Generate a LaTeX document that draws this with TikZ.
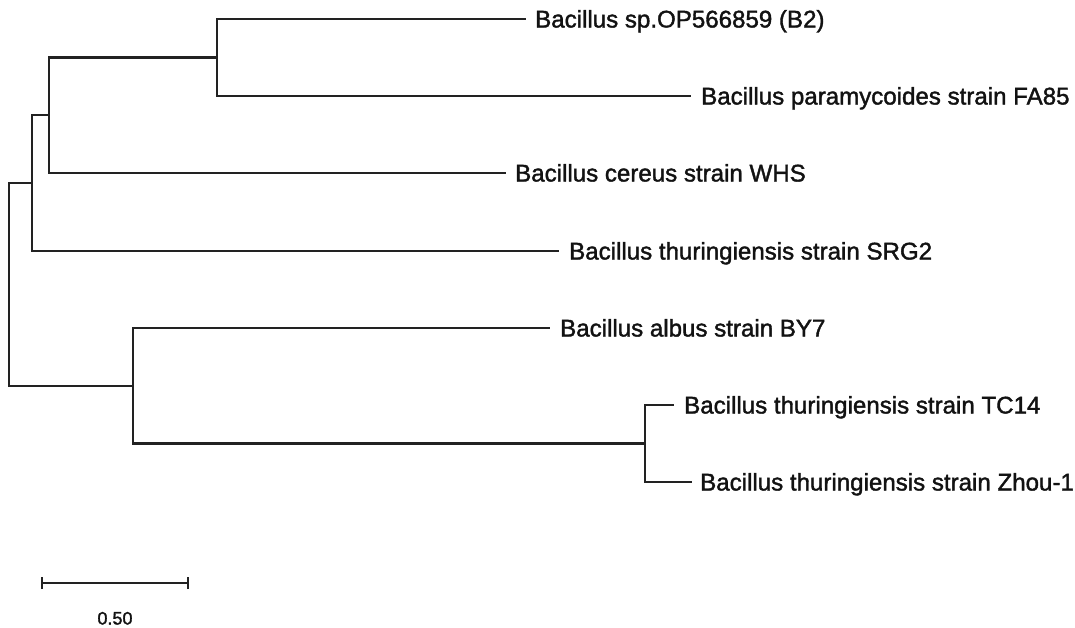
\documentclass[tikz,border=0pt]{standalone}
\usepackage{fontspec}
\setmainfont{Liberation Sans}
\newfontfamily\taxfont{Liberation Sans}[FakeBold=1.6]
\definecolor{branch}{RGB}{34,34,34}
\definecolor{labelink}{RGB}{18,18,18}
\tikzset{
  edge/.style={draw=branch, line width=2.6pt, line cap=rect, line join=miter},
  taxon/.style={anchor=base west, inner sep=0pt, text=labelink,
                font=\taxfont\fontsize{24.1}{28}\selectfont},
  scalelabel/.style={anchor=base, inner sep=0pt, text=labelink,
                font=\taxfont\fontsize{18}{21}\selectfont}
}
\begin{document}
\begin{tikzpicture}[x=1pt,y=-1pt]
\useasboundingbox (0,0) rectangle (1075,627);

% internal nodes (placed at the middle of their vertical bars)
\coordinate (root) at (9,284);
\coordinate (n1)   at (32,183);
\coordinate (n3)   at (49,115);
\coordinate (n4)   at (217,57.5);
\coordinate (n2)   at (133,386);
\coordinate (n5)   at (645,443.5);

% tips (ends of the terminal branches)
\coordinate (tB2)   at (525,19);
\coordinate (tFA)   at (690,96);
\coordinate (tWHS)  at (505,173);
\coordinate (tSRG)  at (558,251);
\coordinate (tBY)   at (549,328);
\coordinate (tTC)   at (673,405);
\coordinate (tZhou) at (691,482);

% taxon labels
\node[taxon] (lB2)   at (535,27.5)  {Bacillus sp.OP566859 (B2)};
\node[taxon] (lFA)   at (701,104.5) {Bacillus paramycoides strain FA85};
\node[taxon] (lWHS)  at (515,181.5) {Bacillus cereus strain WHS};
\node[taxon] (lSRG)  at (569,259.5) {Bacillus thuringiensis strain SRG2};
\node[taxon] (lBY)   at (560,336.5) {Bacillus albus strain BY7};
\node[taxon] (lTC)   at (684,413.5) {Bacillus thuringiensis strain TC14};
\node[taxon] (lZhou) at (700,490.5) {Bacillus thuringiensis strain Zhou-1};

% branches
\path[edge] (root) |- (n1);
\path[edge] (root) |- (n2);
\path[edge] (n1) |- (n3);
\path[edge] (n1) |- (tSRG);
\path[edge] (n3) |- (n4);
\path[edge] (n3) |- (tWHS);
\path[edge] (n4) |- (tB2);
\path[edge] (n4) |- (tFA);
\path[edge] (n2) |- (tBY);
\path[edge] (n2) |- (n5);
\path[edge] (n5) |- (tTC);
\path[edge] (n5) |- (tZhou);

% scale bar
\coordinate (sbL) at (42,583);
\coordinate (sbR) at (188,583);
\path[edge, line cap=butt] (sbL) -- (sbR);
\path[edge, line cap=butt] ([yshift=-6pt]sbL) -- ([yshift=6pt]sbL);
\path[edge, line cap=butt] ([yshift=-6pt]sbR) -- ([yshift=6pt]sbR);
\node[scalelabel] (sbtext) at (115,624.5) {0.50};
\end{tikzpicture}
\end{document}
